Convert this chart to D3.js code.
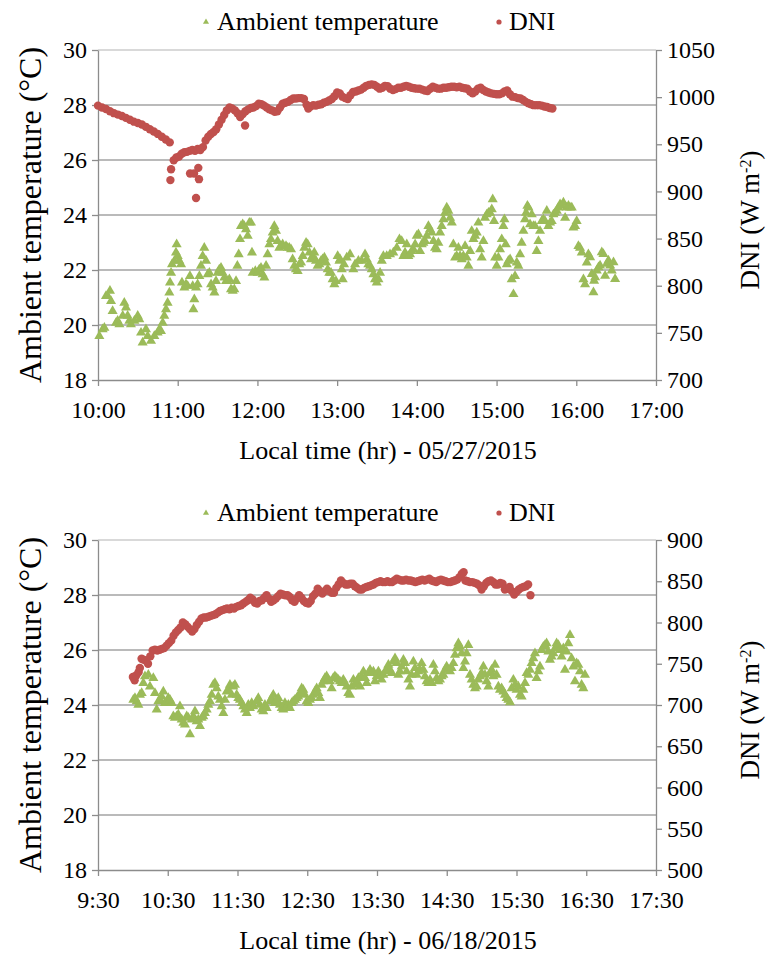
<!DOCTYPE html>
<html>
<head>
<meta charset="utf-8">
<script src="https://cdn.jsdelivr.net/npm/d3@7"></script>
<style>
  body { margin: 0; background: #fff; }
  svg { display: block; }
</style>
</head>
<body>
<svg id="chart" width="766" height="956"></svg>
<script>
// ---- Series 1: 05/27/2015, times in minutes after 10:00 ----
const tempMay = [
  [1.0,19.60],[3.5,19.84],[4.8,19.90],[6.0,21.05],[7.3,21.05],[9.0,21.24],[9.8,20.87],[11.0,20.51],[13.6,20.08],[14.8,20.15],
  [16.1,20.02],[18.6,20.33],[19.8,20.81],[21.1,20.63],[22.3,20.33],[23.6,20.15],[24.8,20.02],[27.4,20.15],[29.9,20.33],[31.1,20.21],
  [32.4,19.72],[33.6,19.36],[36.1,19.84],[37.4,19.60],[39.9,19.42],[42.4,19.60],[44.9,19.72],[46.2,19.84],[47.4,19.78],[48.7,20.08],
  [49.9,20.33],[51.2,20.57],[52.4,20.81],[53.7,21.18],[54.2,21.54],[55.0,21.90],[55.7,22.21],[57.5,22.33],[58.7,22.63],[59.2,22.93],
  [60.0,22.51],[61.2,22.33],[62.5,22.21],[63.2,21.54],[65.0,21.36],[66.2,21.48],[67.5,21.42],[69.2,21.78],[71.3,21.42],[71.8,20.57],
  [72.5,20.93],[73.8,21.36],[75.0,21.48],[76.3,21.78],[77.5,22.15],[78.8,22.51],[80.0,22.81],[81.3,22.33],[82.6,21.84],[83.8,21.90],
  [85.1,21.48],[86.3,21.36],[87.6,21.18],[88.8,21.60],[90.1,21.90],[91.3,22.02],[92.6,22.08],[93.8,21.90],[95.1,21.72],[96.4,21.60],
  [97.6,21.60],[98.9,21.66],[100.1,21.30],[101.4,21.24],[102.6,21.30],[103.9,21.60],[104.9,22.15],[105.9,22.57],[106.9,23.12],[107.6,23.60],
  [108.9,23.66],[110.1,23.60],[111.4,23.48],[112.7,23.24],[113.9,23.72],[115.2,23.72],[115.9,22.63],[116.4,21.90],[118.4,21.96],[120.2,21.90],
  [121.4,22.02],[122.7,22.08],[123.9,21.84],[125.2,21.72],[126.5,22.15],[127.7,22.57],[129.0,22.93],[130.2,23.12],[131.5,23.36],[132.7,23.60],
  [134.0,23.42],[135.2,23.05],[136.5,22.81],[137.7,22.87],[139.0,22.93],[141.5,22.87],[142.8,22.81],[144.0,22.81],[145.3,22.75],[146.5,22.39],
  [147.8,22.15],[149.0,22.02],[150.3,21.96],[151.5,22.21],[152.8,22.27],[154.1,22.51],[155.3,22.81],[156.6,22.99],[157.8,22.93],[159.1,22.63],
  [160.3,22.39],[161.6,22.51],[162.8,22.63],[164.1,22.33],[165.3,22.15],[166.6,22.21],[167.9,22.33],[169.1,22.39],[170.4,22.45],[171.6,22.27],
  [172.9,22.02],[174.1,21.90],[175.4,21.90],[176.6,21.66],[177.9,21.48],[179.1,21.60],[180.4,22.51],[181.7,22.33],
  [182.2,22.39],[183.5,22.02],[184.2,21.66],[185.2,22.21],[187.2,22.45],[189.7,22.57],[192.2,22.02],[193.5,22.21],[196.0,22.33],[198.5,22.33],
  [201.0,22.57],[202.3,22.39],[203.5,22.21],[204.8,22.15],[206.0,22.02],[207.3,21.84],[208.5,21.66],[209.8,21.54],[211.1,21.66],[212.3,21.90],
  [213.6,22.33],[214.8,22.51],[217.3,22.51],[219.8,22.57],[222.3,22.63],[224.9,22.81],[226.9,23.12],[228.6,23.05],[229.9,22.51],[231.1,22.63],
  [232.4,22.93],[233.6,22.51],[234.9,22.57],[236.1,22.69],[237.4,22.75],[238.7,22.93],[239.9,23.24],[241.2,23.30],[242.4,22.69],[243.7,22.93],
  [244.9,22.99],[246.2,23.05],[247.4,23.24],[248.7,23.60],[249.9,23.48],[251.2,23.36],[252.5,23.05],[253.7,22.81],[255.0,22.75],[256.2,22.99],
  [257.5,23.36],[258.7,23.60],[260.0,23.84],[261.2,24.08],[262.5,24.27],[263.7,24.15],[265.0,23.90],[266.3,23.72],[267.5,22.93],[268.8,22.45],
  [270.0,22.51],[271.3,22.81],[272.5,22.51],[273.8,22.39],[275.0,22.51],[276.3,22.87],[277.5,22.45],[278.8,22.15],[280.1,22.69],[281.3,23.42],
  [282.6,23.12],[283.8,23.24],[285.1,23.36],[286.3,23.72],[287.6,22.75],[288.8,22.45],[290.1,23.05],[291.3,23.90],[292.6,24.02],[293.9,24.08],
  [295.1,24.08],[296.4,24.21],[297.1,24.57],[298.1,23.78],[298.9,22.45],[300.1,22.15],[301.4,22.45],[302.6,22.75],[303.9,23.12],[305.1,23.60],
  [305.9,23.84],[306.9,22.93],[307.7,22.21],[308.9,22.33],[310.2,22.39],[311.4,21.66],[312.7,21.12],[313.9,21.78],[315.2,22.27],[316.4,22.15],
  [317.7,22.57],[318.9,22.99],[320.2,23.42],[321.4,23.84],[322.2,24.08],[323.2,24.33],[324.0,24.27],[325.2,23.66],[326.5,24.02],[327.7,23.60],
  [329.0,23.60],[330.2,22.69],[331.5,23.05],[332.7,23.42],[334.0,23.78],[335.2,23.84],[336.5,23.78],[337.8,24.15],[339.0,23.60],[340.3,23.72],
  [341.5,23.78],[342.8,24.02],[344.0,24.08],[345.3,24.15],[346.5,24.27],[347.8,24.39],[349.1,24.33],[350.3,24.45],[351.6,23.90],[352.8,24.27],
  [354.1,24.33],[355.3,24.27],[356.6,24.27],[357.8,23.54],[359.1,23.60],[360.3,23.78],[361.6,22.87],[362.8,22.81],[364.1,22.63],[365.4,21.66],
  [366.6,21.48],[367.9,22.27],[369.1,22.57],[370.4,22.46],[371.7,21.85],[372.9,21.19],[373.4,21.61],[374.2,21.73],[375.4,21.98],[376.7,22.10],
  [377.9,22.16],[379.2,22.64],[380.4,22.58],[381.7,21.79],[382.9,22.22],[384.2,22.34],[385.5,22.16],[386.7,21.98],[388.0,22.28],[389.2,21.67]
];

const dniMay = [
  [0,991],[3,989],[6,987.5],[9,985],[12,983],[15,981.5],[18,980],[21,978],[24,976],[27,974],
  [30,972.5],[33,971],[36,968.5],[39,966],[42,963.5],[45,961],[48,958],[51,955],[54,952],[54.5,912],
  [55,923.6],[57,933],[59,936],[61,937],[63,940],[65,941.5],[67,942],[69,943],[69.3,919],[71,944],
  [72.3,919],[73,943],[73.8,893],[75,945],[75.5,925],[76,913],[77,944],[79,947],[81,954],[83,958],
  [85,961],[87,963],[89,966],[91,971],[93,976],[95,981],[97,986],[99,989],[101,988],[103,986],
  [105,983],[107,979],[109,982],[110.7,970],[111,985],[113,987],[115,988.5],[117,989],[119,990.5],[121,993],
  [123,992.5],[125,991],[127,989],[129,987],[131,986],[133,984.5],[135,985],[137,989],[139,993],[141,994],
  [143,995],[145,997],[147,998.5],[149,998.5],[151,999],[153,999],[155,998],[157,992],[158.3,988],[160,990],
  [162,991.5],[164,991],[166,992],[168,992.5],[170,994],[172,995],[174,996.5],[176,998],[178,1001],[180,1005],
  [182,1004],[184,1000.5],[186,999],[188,998],[190,1002],[192,1005.5],[194,1006],[196,1007],[198,1008],[200,1010],
  [202,1012],[204,1013],[206,1013.5],[208,1013],[210,1011],[212,1009],[214,1010],[216,1012],[218,1011.5],[220,1009],
  [222,1007.5],[224,1008.5],[226,1010],[228,1010],[230,1011],[232,1012],[234,1011],[236,1010],[238,1009.5],[240,1009],
  [242,1009],[244,1008],[246,1007],[248,1006.5],[250,1009],[252,1011],[254,1010],[256,1009],[258,1009],[260,1010],
  [262,1010],[264,1010.5],[266,1011],[268,1011],[270,1010.5],[272,1011],[274,1010],[276,1009.5],[278,1009],[280,1006],
  [282,1004],[284,1006],[286,1009],[288,1010],[290,1007.5],[292,1006],[294,1005],[296,1004],[298,1003.5],[300,1003],
  [302,1003],[304,1004],[306,1006],[308,1007],[310,1003],[312,1000.5],[314,1000],[316,999],[318,998.5],[320,997],
  [322,995],[324,993.5],[326,992.5],[328,991.5],[330,991.5],[332,991.5],[334,991],[336,990],[338,989.5],[340,988.5],
  [342,988]
];

// ---- Series 2: 06/18/2015, times in minutes after 09:30 ----
const tempJune = [
  [30.4,24.19],[31.8,24.25],[33.3,24.13],[34.7,24.01],[36.1,24.37],[37.6,24.43],[39.0,24.80],[40.4,25.04],[43.3,25.10],[44.7,24.67],
  [47.6,24.98],[49.0,24.43],[50.5,23.83],[51.9,24.13],[53.3,24.19],[54.8,24.31],[56.2,24.49],[57.6,24.07],[59.1,24.13],[60.5,24.25],
  [61.9,24.19],[63.4,24.07],[64.8,23.59],[66.2,23.53],[67.7,23.59],[69.1,23.65],[70.5,23.95],[72.0,23.47],[73.4,23.35],[74.8,23.29],
  [76.3,23.59],[77.7,23.53],[79.1,22.93],[80.6,23.47],[82.0,23.59],[83.4,23.77],[84.9,23.41],[86.3,23.47],[87.7,23.23],[89.2,23.53],
  [90.6,23.59],[92.0,23.71],[93.5,23.83],[94.9,24.01],[96.3,24.13],[97.8,24.37],[99.2,24.73],[100.6,24.80],[102.1,24.61],[103.5,24.31],
  [104.9,24.19],[106.4,23.95],[107.8,23.71],[109.2,24.19],[110.7,24.49],[112.1,24.55],[113.5,24.73],[115.0,24.37],[116.4,24.67],[117.8,24.73],
  [119.3,24.37],[120.7,24.25],[122.1,24.19],[123.6,24.07],[125.0,23.95],[126.4,23.83],[127.9,23.71],[129.3,24.01],[130.7,23.89],[132.2,24.07],
  [133.6,23.95],[136.5,24.13],[137.9,24.25],[139.3,24.01],[140.8,23.83],[142.2,23.77],[143.6,24.01],[145.1,23.89],[147.9,24.13],[149.4,24.25],
  [150.8,24.37],[152.2,24.07],[153.7,24.19],[155.1,24.25],[156.5,24.01],[158.0,23.89],[159.4,23.83],[160.8,24.07],[162.3,23.95],[163.7,24.01],
  [165.1,23.89],[166.6,24.07],[168.0,24.13],[169.4,24.19],[170.9,24.25],[172.3,24.31],[173.7,24.43],[175.2,24.61],[176.6,24.55],[178.0,24.37],
  [179.5,24.13],[180.9,24.07],[182.3,24.19],[183.8,24.25],[185.2,24.37],[186.6,24.49],[188.1,24.61],[189.5,24.43],[190.9,24.25],[192.4,24.73],
  [193.8,24.86],[195.2,24.98],[196.7,25.04],[198.1,24.92],[199.5,24.86],[201.0,24.61],[202.4,24.98],[203.8,25.04],[205.3,24.98],[206.7,24.92],
  [208.1,24.86],[209.6,24.80],[211.0,24.92],[212.4,24.80],[213.9,24.67],[215.3,24.43],
  [216.8,24.37],[218.2,24.67],[219.7,24.92],[221.1,24.73],[222.5,24.86],[224.0,24.98],[225.4,24.67],[226.8,25.04],[228.3,25.22],[229.7,24.98],
  [231.1,24.80],[232.6,25.16],[234.0,25.28],[235.4,25.16],[236.9,25.22],[238.3,24.86],[239.7,25.04],[241.2,25.22],[242.6,25.10],[244.0,24.92],
  [245.5,25.10],[246.9,25.22],[248.3,25.28],[249.8,25.46],[251.2,25.28],[252.6,25.16],[254.1,25.58],[255.5,25.70],[256.9,25.52],[258.4,25.10],
  [259.8,25.22],[261.2,25.40],[262.7,25.64],[264.1,25.52],[265.5,25.22],[267.0,24.92],[268.4,24.67],[269.8,25.10],[271.3,25.58],[272.7,25.34],
  [274.1,25.10],[275.6,25.22],[277.0,25.28],[278.4,25.52],[279.9,25.28],[281.3,25.04],[282.7,24.86],[284.2,24.80],[285.6,24.92],[287.0,24.80],
  [288.5,25.46],[289.9,25.22],[291.3,24.98],[292.8,24.86],[294.2,24.92],[295.6,25.04],[297.1,25.10],[298.5,25.28],[299.9,25.40],[301.4,25.28],
  [302.8,25.22],[304.2,25.34],[305.7,25.52],[307.1,25.82],[308.5,26.06],[310.0,26.24],[311.4,26.12],[312.8,25.88],[314.3,25.34],[315.7,25.58],
  [317.1,25.88],[318.6,26.18],[320.0,25.10],[321.4,24.92],[322.9,24.73],[324.3,24.61],[325.7,24.67],[327.2,24.92],[328.6,25.04],[330.0,25.16],
  [331.5,25.40],[332.9,25.10],[334.3,24.86],[335.8,24.67],[337.2,25.16],[338.6,25.28],[340.1,25.04],[341.5,25.46],[342.9,25.10],[344.4,24.67],
  [345.8,24.55],[347.2,24.61],[348.7,24.49],[350.1,24.37],[351.5,24.25],[353.0,24.19],[354.4,24.10],[355.8,24.61],[357.3,24.92],[358.7,24.73],
  [360.1,24.55],[361.6,24.67],[363.0,24.37],[364.4,24.31],[365.9,24.55],[367.3,24.80],[368.7,25.16],[370.2,25.10],[371.6,25.28],[373.0,25.52],
  [374.5,25.70],[375.9,25.88],[377.3,24.98],[378.8,25.22],[380.2,25.40],[381.6,26.00],[383.1,26.12],[384.5,26.18],[385.9,26.24],[387.4,25.94],
  [388.8,25.64],[390.2,25.76],[391.7,25.88],[393.1,26.06],[394.5,26.24],[396.0,26.18],[397.4,26.00],[398.8,25.76],[400.3,26.06],[401.7,25.28],
  [403.1,25.94],[404.6,26.24],[406.0,26.54],[407.4,25.70],[408.9,25.40],[410.3,24.86],[411.7,25.52],[413.2,25.46],[414.6,25.22],[416.0,24.73],
  [417.5,24.61],[418.9,25.10]
];

const dniJune = [
  [30,734],[31.5,730],[33,736],[35,740],[36,745],[37.5,756],[39,755],[41,754],[43,750],[45,759],
  [47,766],[49,767],[51,766],[53,767],[55,768],[57,769],[59,772],[61,775],[63,778],[65,784],
  [67,788],[69,791],[71,794],[73,800],[75,798],[77,795],[79,792],[81,789],[83,792],[85,797],
  [87,801],[89,805],[91,806],[93,806],[95,807],[97,808],[99,809],[101,810],[103,812],[105,814],
  [107,815],[109,816],[111,817],[113,816],[115,818],[117,817],[119,819],[121,820],[123,821],[125,823],
  [127,825],[129,827],[131,830],[133,828],[135,824],[137,823],[139,826],[141,827],[143,830],[145,833],
  [147,829],[149,825],[151,827],[153,829],[155,832],[157,835],[159,834],[161,833],[163,833],[165,831],
  [167,827],[169,825],[171,829],[173,833],[175,830],[177,826],[179,824],[181,823],[183,826],[185,832],
  [187,835],[189,841],[191,838],[193,835],[195,838],[197,841],[199,838],[201,836],[203,836],[205,842],
  [207,846],[209,851],[211,848],[213,846],[215,846],[217,847],[219,847],[221,844],[223,842],[225,840],
  [227,840],[229,842],[231,843],[233,844],[235,845],[237,846],[239,848],[241,849],[243,850],[245,849],
  [247,849],[249,850],[251,849],[253,849],[255,851],[257,853],[259,852],[261,851],[263,851],[265,852],
  [267,851],[269,851],[271,850],[273,849],[275,850],[277,851],[279,852],[281,851],[283,852],[285,853],
  [287,851],[289,850],[291,849],[293,851],[295,852],[297,851],[299,850],[301,849],[303,849],[305,850],
  [307,851],[309,852],[311,855],[313,859],[314.5,861],[316,851],[318,850],[320,849],[322,849],[324,848],
  [326,847],[328,845],[330,840],[332,844],[334,848],[336,850],[338,851],[340,849],[342,846],[344,846],
  [346,848],[348,847],[350,840],[352,841],[354,843],[356,838],[358,834],[360,837],[362,840],[364,842],
  [366,843],[368,844],[370,846],[372,833]
];

// ---- Axis ticks ----
const tempTicks = [18, 20, 22, 24, 26, 28, 30];
const dniTicksMay = [700, 750, 800, 850, 900, 950, 1000, 1050];
const dniTicksJune = [500, 550, 600, 650, 700, 750, 800, 850, 900];
const hourTicksMay = [0, 60, 120, 180, 240, 300, 360, 420];       // 10:00 ... 17:00
const hourTicksJune = [0, 60, 120, 180, 240, 300, 360, 420, 480]; // 9:30 ... 17:30

const legendLabels = ["Ambient temperature", "DNI"];
const xTitles = ["Local time (hr) - 05/27/2015", "Local time (hr) - 06/18/2015"];

const FONT = "'Liberation Serif', 'Times New Roman', serif";
const TEMP_COLOR = "#9bbb59";
const DNI_COLOR = "#c0504d";
const GRID_COLOR = "#a3a3a3";
const AXIS_COLOR = "#8c8c8c";

const svg = d3.select("#chart");

const panels = [
  { top: 50, bottom: 380, startClock: 600, temp: tempMay, dni: dniMay,
    dniTicks: dniTicksMay, hourTicks: hourTicksMay, title: xTitles[0], legendY: 22 },
  { top: 540, bottom: 870, startClock: 570, temp: tempJune, dni: dniJune,
    dniTicks: dniTicksJune, hourTicks: hourTicksJune, title: xTitles[1], legendY: 513 }
];

const left = 98, right = 656;

function clockLabel(startClock) {
  return m => {
    const t = startClock + m;
    const h = Math.floor(t / 60), mm = t % 60;
    return h + ":" + String(mm).padStart(2, "0");
  };
}

function styleAxis(g) {
  g.attr("font-family", FONT).attr("font-size", 24);
  g.selectAll("path.domain").attr("stroke", AXIS_COLOR).attr("stroke-width", 1.3);
  g.selectAll(".tick line").attr("stroke", AXIS_COLOR).attr("stroke-width", 1.3);
  g.selectAll(".tick text").attr("fill", "#000")
    .attr("font-family", FONT)
    .style("font-family", FONT)
    .style("font-size", "24px");
}

function label(sel, size) {
  return sel.style("font-family", FONT).style("font-size", size + "px").attr("fill", "#000");
}

panels.forEach(p => {
  const last = p.hourTicks[p.hourTicks.length - 1];
  const x = d3.scaleLinear().domain([0, last]).range([left, right]);
  const yT = d3.scaleLinear().domain([18, 30]).range([p.bottom, p.top]);
  const yD = d3.scaleLinear()
    .domain([p.dniTicks[0], p.dniTicks[p.dniTicks.length - 1]])
    .range([p.bottom, p.top]);

  const g = svg.append("g");

  // horizontal gridlines (the top one is drawn lighter)
  g.append("g").selectAll("line").data(tempTicks.slice(1)).join("line")
    .attr("x1", left).attr("x2", right)
    .attr("y1", d => yT(d)).attr("y2", d => yT(d))
    .attr("stroke", d => d === 30 ? "#cccccc" : GRID_COLOR)
    .attr("stroke-width", 1.3);

  // axes
  const ax = g.append("g").attr("transform", `translate(0,${p.bottom})`)
    .call(d3.axisBottom(x).tickValues(p.hourTicks).tickFormat(clockLabel(p.startClock))
      .tickSizeInner(6).tickSizeOuter(0).tickPadding(15));
  styleAxis(ax);

  const ayl = g.append("g").attr("transform", `translate(${left},0)`)
    .call(d3.axisLeft(yT).tickValues(tempTicks).tickFormat(d3.format("d"))
      .tickSizeInner(6).tickSizeOuter(0).tickPadding(5));
  styleAxis(ayl);

  const ayr = g.append("g").attr("transform", `translate(${right},0)`)
    .call(d3.axisRight(yD).tickValues(p.dniTicks).tickFormat(d3.format("d"))
      .tickSizeInner(6).tickSizeOuter(0).tickPadding(5));
  styleAxis(ayr);

  // temperature markers
  const tri = d3.symbol().type(d3.symbolTriangle).size(44);
  g.append("g").selectAll("path").data(p.temp).join("path")
    .attr("d", tri)
    .attr("transform", d => `translate(${x(d[0])},${yT(d[1])})`)
    .attr("fill", TEMP_COLOR);

  // DNI markers
  g.append("g").selectAll("circle").data(p.dni).join("circle")
    .attr("cx", d => x(d[0])).attr("cy", d => yD(d[1]))
    .attr("r", 4.2).attr("fill", DNI_COLOR);

  // axis titles
  const midY = (p.top + p.bottom) / 2;
  label(g.append("text"), 32)
    .attr("transform", `translate(31,${midY}) rotate(-90)`)
    .attr("text-anchor", "middle").attr("dy", "0.32em")
    .text("Ambient temperature (°C)");

  const rt = label(g.append("text"), 27)
    .attr("transform", `translate(750,${midY + 5}) rotate(-90)`)
    .attr("text-anchor", "middle").attr("dy", "0.32em");
  rt.append("tspan").text("DNI (W m");
  rt.append("tspan").attr("baseline-shift", "super").style("font-size", "16px").text("-2");
  rt.append("tspan").text(")");

  label(g.append("text"), 26)
    .attr("x", 388).attr("y", p.bottom + 79)
    .attr("text-anchor", "middle")
    .text(p.title);

  // legend
  const lg = g.append("g").attr("transform", `translate(0,${p.legendY})`);
  lg.append("path").attr("d", d3.symbol().type(d3.symbolTriangle).size(16))
    .attr("transform", "translate(206,0)").attr("fill", TEMP_COLOR);
  label(lg.append("text"), 26).attr("x", 217).attr("dy", "0.32em").text(legendLabels[0]);
  lg.append("circle").attr("cx", 499).attr("cy", 0).attr("r", 2.6).attr("fill", DNI_COLOR);
  label(lg.append("text"), 26).attr("x", 509).attr("dy", "0.32em").text(legendLabels[1]);
});
</script>
</body>
</html>
